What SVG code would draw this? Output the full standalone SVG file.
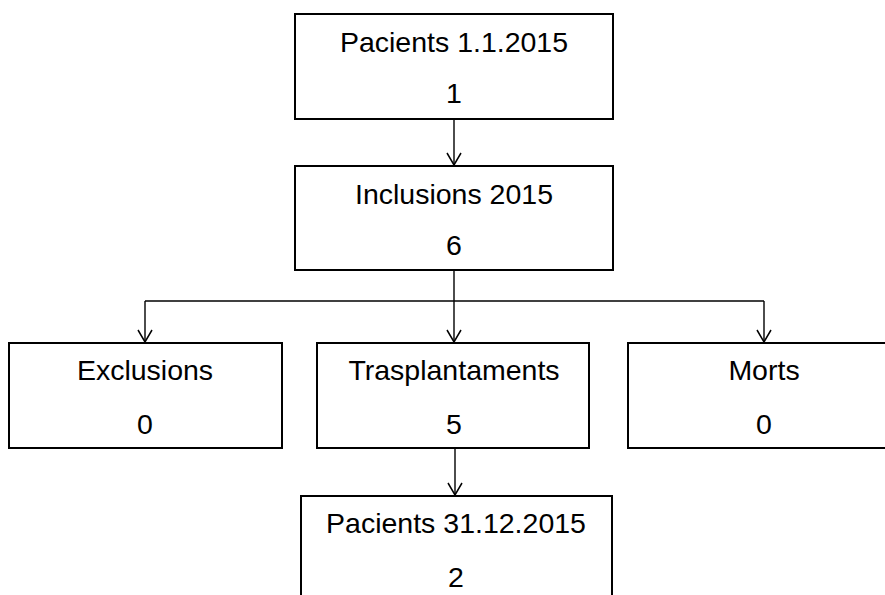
<svg xmlns="http://www.w3.org/2000/svg" width="885" height="595" viewBox="0 0 885 595">
<style>
.box{fill:#fff;stroke:#000;stroke-width:2}
.t{font-family:"Liberation Sans",Arial,sans-serif;font-size:28.5px;fill:#000;text-anchor:middle}
.c{fill:none;stroke:#000;stroke-width:1.4;marker-end:url(#ah)}
.c2{fill:none;stroke:#000;stroke-width:1.4}
</style>
<defs>
<marker id="ah" markerUnits="userSpaceOnUse" markerWidth="16" markerHeight="18" refX="13" refY="8" orient="auto" viewBox="0 0 16 18">
<path d="M1 1 L13 8 L1 15" fill="none" stroke="#000" stroke-width="1.5"/>
</marker>
</defs>
<rect width="885" height="595" fill="#fff"/>
<g id="connectors">
<path class="c" d="M454 119 V165"/>
<path class="c2" d="M145 301 H764"/>
<path class="c" d="M454 270 V342"/>
<path class="c" d="M145 301 V342"/>
<path class="c" d="M764 301 V342"/>
<path class="c" d="M455 448 V495"/>
</g>
<g id="n1">
<rect class="box" x="295" y="14" width="318" height="105"/>
<text class="t" x="454" y="52">Pacients 1.1.2015</text>
<text class="t" x="454" y="103">1</text>
</g>
<g id="n2">
<rect class="box" x="295" y="166" width="318" height="104"/>
<text class="t" x="454" y="204">Inclusions 2015</text>
<text class="t" x="454" y="255">6</text>
</g>
<g id="n3">
<rect class="box" x="9" y="343" width="273" height="105"/>
<text class="t" x="145" y="380">Exclusions</text>
<text class="t" x="145" y="434">0</text>
</g>
<g id="n4">
<rect class="box" x="317" y="343" width="272" height="105"/>
<text class="t" x="454" y="380">Trasplantaments</text>
<text class="t" x="454" y="434">5</text>
</g>
<g id="n5">
<rect class="box" x="628" y="343" width="272" height="105"/>
<text class="t" x="764" y="380">Morts</text>
<text class="t" x="764" y="434">0</text>
</g>
<g id="n6">
<rect class="box" x="301" y="496" width="311" height="120"/>
<text class="t" x="456" y="533">Pacients 31.12.2015</text>
<text class="t" x="456" y="587">2</text>
</g>
</svg>
